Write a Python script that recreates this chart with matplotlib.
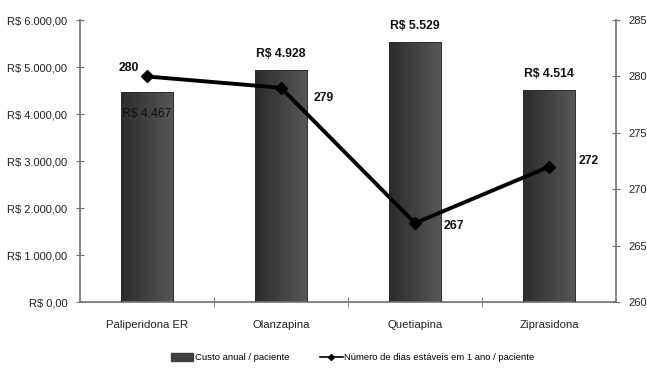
import matplotlib.pyplot as plt
import numpy as np

medicamentos = ['Paliperidona ER', 'Olanzapina', 'Quetiapina', 'Ziprasidona']
custo = [4467, 4928, 5529, 4514]
dias = [280, 279, 267, 272]
custo_labels = ['R$ 4.467', 'R$ 4.928', 'R$ 5.529', 'R$ 4.514']

plt.rcParams['font.family'] = ['Liberation Sans', 'DejaVu Sans']


def reais(v, pos=None):
    s = f"{v:,.2f}".replace(',', 'X').replace('.', ',').replace('X', '.')
    return "R$ " + s


fig = plt.figure(figsize=(6.47, 3.72), dpi=100)
ax = fig.add_axes([0.1236, 0.188, 0.8285, 0.758])
x = np.arange(len(medicamentos))

bars = ax.bar(x, custo, width=0.39, color='none', edgecolor='#2a2a2a', linewidth=0.6, zorder=3)
# degradê nas barras
grad = np.linspace(0, 1, 50).reshape(1, -1)
cmap = plt.matplotlib.colors.LinearSegmentedColormap.from_list('g', ['#2c2c2c', '#575757'])
for b in bars:
    bx, by, bw, bh = b.get_x(), b.get_y(), b.get_width(), b.get_height()
    im = ax.imshow(grad, cmap=cmap, extent=[bx, bx + bw, by, by + bh], aspect='auto', zorder=2)
    im.set_clip_path(b)

ax.set_xlim(-0.5, 3.5)
ax.set_ylim(0, 6000)
ax.set_yticks(np.arange(0, 6001, 1000))
ax.yaxis.set_major_formatter(plt.FuncFormatter(reais))
ax.set_xticks(x)
ax.set_xticklabels(medicamentos, fontsize=8.2)
ax.set_xticks([0.5, 1.5, 2.5], minor=True)
ax.tick_params(axis='x', which='major', length=0, pad=13, labelcolor='#222222')
ax.tick_params(axis='x', which='minor', length=7, direction='inout', color='#707070')
ax.tick_params(axis='y', length=6, direction='inout', color='#707070', labelsize=8, pad=6,
               labelcolor='#222222')
for s in ['top', 'right']:
    ax.spines[s].set_visible(False)
for s in ['left', 'bottom']:
    ax.spines[s].set_color('#707070')
    ax.spines[s].set_linewidth(1.2)

# rótulos das barras
ax.text(x[0], custo[0] - 330, custo_labels[0], ha='center', va='top', fontsize=8.8, color='#111111')
for i in range(1, 4):
    ax.text(x[i], custo[i] + 220, custo_labels[i], ha='center', va='bottom',
            fontsize=8.8, fontweight='bold', color='#111111')

ax2 = ax.twinx()
ax2.set_ylim(260, 285)
ax2.set_yticks(range(260, 286, 5))
ax2.plot(x, dias, color='black', linewidth=2.8, marker='D', markersize=6, zorder=4)
ax2.tick_params(axis='y', length=6, direction='inout', color='#707070', labelsize=8, pad=6,
                labelcolor='#222222')
for s in ['top', 'left', 'bottom']:
    ax2.spines[s].set_visible(False)
ax2.spines['right'].set_color('#707070')
ax2.spines['right'].set_linewidth(1.2)

offs = [(-0.06, 0.2, 'right', 'bottom'), (0.24, -0.35, 'left', 'top'),
        (0.21, -0.3, 'left', 'center'), (0.22, 0.5, 'left', 'center')]
for i, (dx, dy, ha, va) in enumerate(offs):
    ax2.text(x[i] + dx, dias[i] + dy, str(dias[i]), ha=ha, va=va,
             fontsize=8.8, fontweight='bold', color='#111111')

h1 = plt.Rectangle((0, 0), 1, 1, color='#404040')
h2 = plt.Line2D([], [], color='black', linewidth=1.2, marker='D', markersize=3)
fig.legend([h1, h2], ['Custo anual / paciente', 'Número de dias estáveis em 1 ano / paciente'],
           loc='center', bbox_to_anchor=(0.545, 0.038), ncol=2, frameon=False,
           fontsize=6.8, handlelength=2.4, handleheight=0.9, columnspacing=3.2, handletextpad=0.2)

fig.savefig('out.png', dpi=100)
